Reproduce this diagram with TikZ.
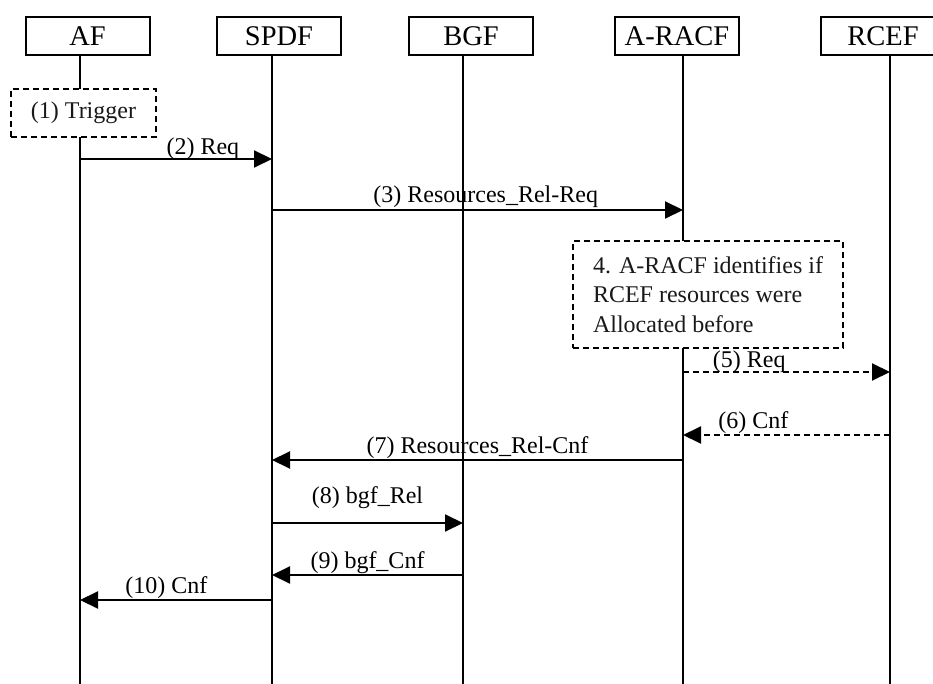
\documentclass[tikz,border=0pt]{standalone}
\usepackage{fontspec}
\setmainfont{Liberation Serif}
\usetikzlibrary{arrows.meta}
\begin{document}
\begin{tikzpicture}[x=1pt,y=-1pt,
  ent/.style={draw,line width=2pt,minimum width=124pt,minimum height=38pt,inner sep=0pt,font=\fontsize{28.5}{34}\selectfont,fill=white},
  life/.style={line width=2pt},
  msg/.style={line width=2pt,-{Triangle[length=18pt,width=17pt]}},
  rsp/.style={msg,dash pattern=on 6pt off 4pt},
  lbl/.style={font=\fontsize{24}{29}\selectfont,anchor=base,inner sep=0pt,yshift=7pt},
  dbox/.style={draw,dash pattern=on 6pt off 4pt,line width=2pt,fill=white,inner sep=0pt,text=black!90,font=\fontsize{24}{29.5}\selectfont}
]
\useasboundingbox (0,0) rectangle (933,684);
\clip (0,0) rectangle (933,684);

% lifeline ends
\coordinate (AFt) at (80,55);   \coordinate (AFb) at (80,684);
\coordinate (SPt) at (272,55);  \coordinate (SPb) at (272,684);
\coordinate (BGt) at (463,55);  \coordinate (BGb) at (463,684);
\coordinate (ARt) at (683,55);  \coordinate (ARb) at (683,684);
\coordinate (RCt) at (890,55);  \coordinate (RCb) at (890,684);

\draw[life] (AFt) -- (AFb);
\draw[life] (SPt) -- (SPb);
\draw[life] (BGt) -- (BGb);
\draw[life] (ARt) -- (ARb);
\draw[life] (RCt) -- (RCb);

% headers
\node[ent] (AF)   at (87.5,36) {AF};
\node[ent] (SPDF) at (279,36)  {SPDF};
\node[ent] (BGF)  at (471,36)  {BGF};
\node[ent] (ARACF) at (677,36) {A-RACF};
\node[ent] (RCEF) at (883,36)  {RCEF};

% boxes
\node[dbox,minimum width=145pt,minimum height=48pt] (trig) at (83.5,113) {(1) Trigger};
\node[dbox,minimum width=270pt,minimum height=107pt,align=left] (note) at (708,294.5)
  {4. A-RACF identifies if\\RCEF resources were\\Allocated before};

% message end points
\coordinate (m2a) at (80,159);   \coordinate (m2b) at (272,159);
\coordinate (m3a) at (272,210);  \coordinate (m3b) at (683,210);
\coordinate (m5a) at (683,372);  \coordinate (m5b) at (890,372);
\coordinate (m6a) at (890,435);  \coordinate (m6b) at (683,435);
\coordinate (m7a) at (683,460);  \coordinate (m7b) at (272,460);
\coordinate (m8a) at (272,523);  \coordinate (m8b) at (463,523);
\coordinate (m9a) at (463,575);  \coordinate (m9b) at (272,575);
\coordinate (m10a) at (272,600); \coordinate (m10b) at (80,600);

\draw[msg] (m2a) -- node[lbl,pos=.64,yshift=-3pt] {(2) Req} (m2b);
\draw[msg] (m3a) -- node[lbl,pos=.52] {(3) Resources\_Rel-Req} (m3b);
\draw[rsp] (m5a) -- node[lbl,pos=.32,yshift=-2pt] {(5) Req} (m5b);
\draw[rsp] (m6a) -- node[lbl,pos=.66] {(6) Cnf} (m6b);
\draw[msg] (m7a) -- node[lbl,pos=.5] {(7) Resources\_Rel-Cnf} (m7b);
\draw[msg] (m8a) -- node[lbl,pos=.5,yshift=13pt] {(8) bgf\_Rel} (m8b);
\draw[msg] (m9a) -- node[lbl,pos=.5] {(9) bgf\_Cnf} (m9b);
\draw[msg] (m10a) -- node[lbl,pos=.55] {(10) Cnf} (m10b);
\end{tikzpicture}
\end{document}
